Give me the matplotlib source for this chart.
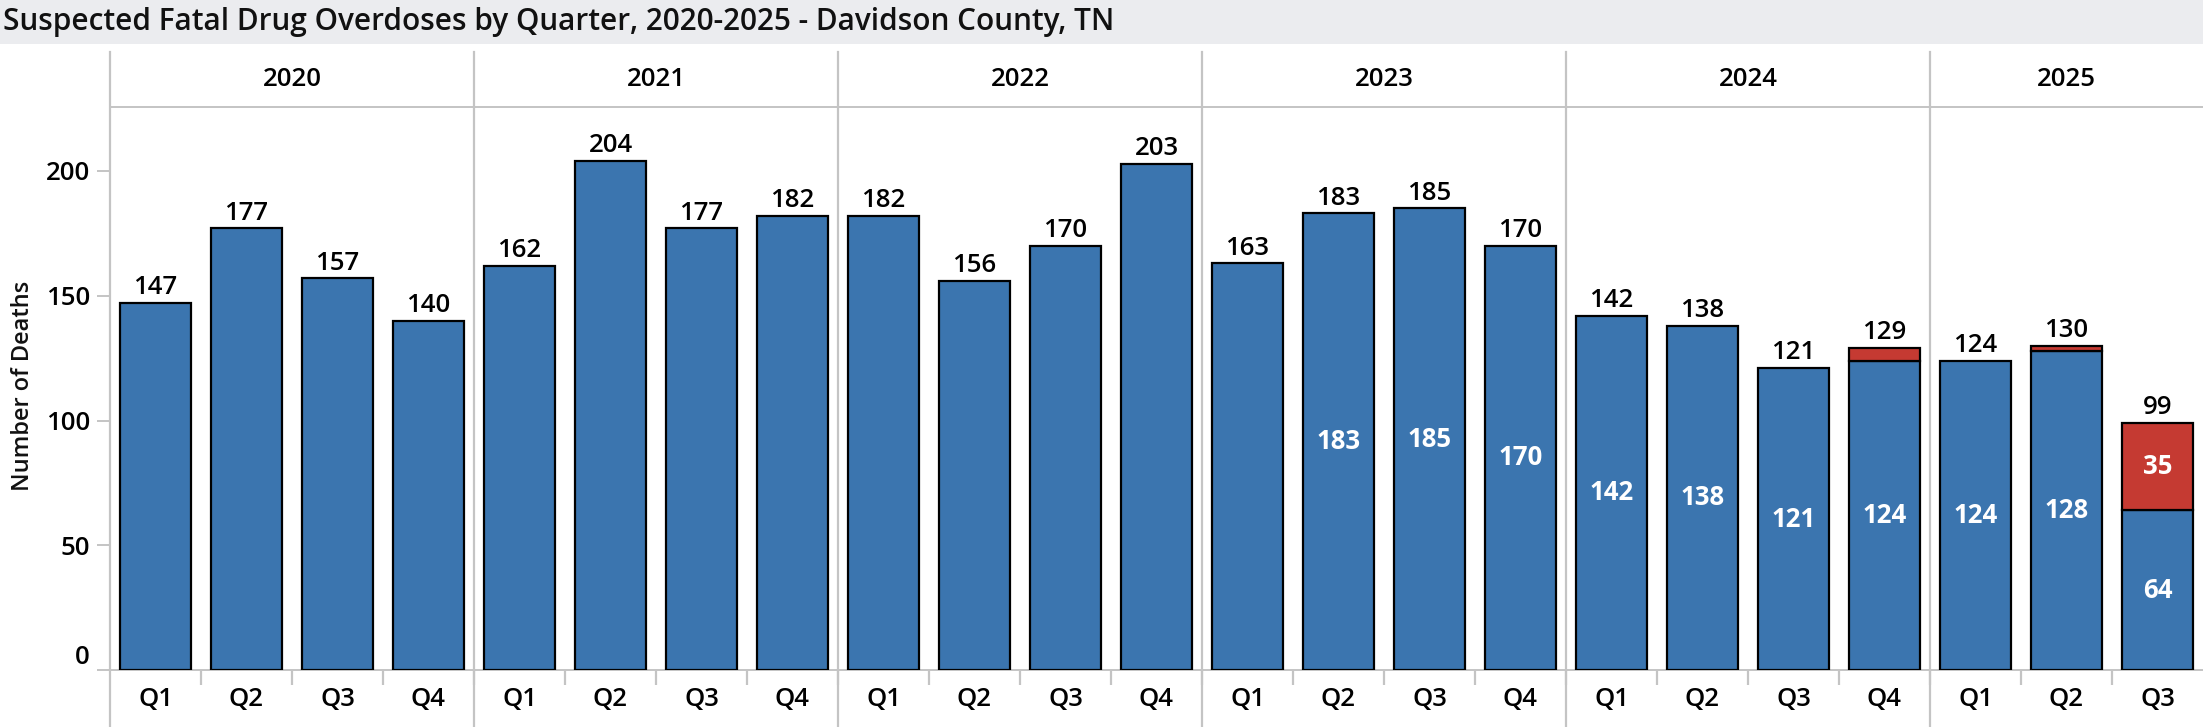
import matplotlib
matplotlib.use("Agg")
import matplotlib.pyplot as plt
from matplotlib.lines import Line2D
from matplotlib.patches import Rectangle
from matplotlib.transforms import blended_transform_factory, ScaledTranslation

# ---------------- data ----------------
years = ["2020", "2021", "2022", "2023", "2024", "2025"]
quarters_per_year = [4, 4, 4, 4, 4, 3]
quarter_labels = ["Q1", "Q2", "Q3", "Q4"] * 5 + ["Q1", "Q2", "Q3"]
blue_values = [147, 177, 157, 140,
               162, 204, 177, 182,
               182, 156, 170, 203,
               163, 183, 185, 170,
               142, 138, 121, 124,
               124, 128, 64]
red_values = [0, 0, 0, 0,
              0, 0, 0, 0,
              0, 0, 0, 0,
              0, 0, 0, 0,
              0, 0, 0, 5,
              0, 2, 35]
show_inner_blue = [False] * 13 + [True] * 10
show_inner_red = [False] * 22 + [True]

title = "Suspected Fatal Drug Overdoses by Quarter, 2020-2025 - Davidson County, TN"
y_label = "Number of Deaths"
y_ticks = [0, 50, 100, 150, 200]

# ---------------- style ----------------
W, H, DPI = 2203, 727, 100
BLUE = "#3B75AF"
RED = "#C53A32"
GRID = "#C4C4C4"
FONT = ["Open Sans", "DejaVu Sans"]
plt.rcParams["font.family"] = FONT
FS = 18.5
LW = "semibold"

fig = plt.figure(figsize=(W / DPI, H / DPI), dpi=DPI)

def fx(px):
    return px / W

def fy(py):
    return 1 - py / H

# title band
fig.patches.append(Rectangle((0, fy(44)), 1, 44 / H, transform=fig.transFigure,
                             facecolor="#EBECEF", edgecolor="none", zorder=0))
fig.text(fx(3), fy(22), title, fontsize=21.4, fontweight="semibold",
         ha="left", va="center", color="#111111")

ax_left, ax_right, ax_top, ax_bot = 110, 2203, 107, 670
ax = fig.add_axes([fx(ax_left), fy(ax_bot), (ax_right - ax_left) / W, (ax_bot - ax_top) / H])

n = len(blue_values)
x = list(range(n))
bar_w = 0.77
totals = [b + r for b, r in zip(blue_values, red_values)]

ax.bar(x, blue_values, width=bar_w, color=BLUE, edgecolor="black", linewidth=1.6, zorder=3)
red_x = [xi for xi, r in zip(x, red_values) if r > 0]
red_h = [r for r in red_values if r > 0]
red_b = [b for b, r in zip(blue_values, red_values) if r > 0]
ax.bar(red_x, red_h, bottom=red_b, width=bar_w, color=RED, edgecolor="black", linewidth=1.6, zorder=3)

# total labels
for xi, t in zip(x, totals):
    ax.annotate(str(t), (xi, t), xytext=(0, 2), textcoords="offset points",
                ha="center", va="bottom", fontsize=FS, fontweight=LW,
                color="black", zorder=5)

# inner labels
for xi, b, r, sb, sr in zip(x, blue_values, red_values, show_inner_blue, show_inner_red):
    if sb:
        ax.text(xi, b / 2, str(b), ha="center", va="center", fontsize=FS,
                fontweight="bold", color="white", zorder=5)
    if sr and r > 0:
        ax.text(xi, b + r / 2, str(r), ha="center", va="center", fontsize=FS,
                fontweight="bold", color="white", zorder=5)

ax.set_xlim(-0.5, n - 0.5)
ax.set_ylim(0, (ax_bot - ax_top) / 2.495)

# spines
ax.spines["right"].set_visible(False)
ax.spines["top"].set_color(GRID)
ax.spines["top"].set_linewidth(1.4)
ax.spines["left"].set_color("#D0D0D0")
ax.spines["left"].set_linewidth(1.2)
ax.spines["bottom"].set_color(GRID)
ax.spines["bottom"].set_linewidth(1.4)

# y axis
ax.set_yticks(y_ticks)
ax.set_yticklabels([str(v) for v in y_ticks])
ax.tick_params(axis="y", length=9.5, width=1.4, color=GRID, pad=5, labelsize=FS)
for lab in ax.get_yticklabels():
    lab.set_fontweight(LW)
lbl0 = ax.get_yticklabels()[0]
lbl0.set_transform(lbl0.get_transform() + ScaledTranslation(0, 15 / DPI, fig.dpi_scale_trans))
fig.text(fx(23), fy(386), y_label, rotation=90, ha="center", va="center",
         fontsize=17, fontweight="semibold", color="#111111")

# x axis
ax.set_xticks(x)
ax.set_xticklabels(quarter_labels)
ax.tick_params(axis="x", which="major", length=0, pad=12, labelsize=FS)
for lab in ax.get_xticklabels():
    lab.set_fontweight(LW)
ax.set_xticks([i + 0.5 for i in range(n - 1)], minor=True)
ax.tick_params(axis="x", which="minor", length=11, width=1.6, color=GRID)

# year separators & headers
trans = blended_transform_factory(ax.transData, fig.transFigure)
start = 0
bounds = [-0.5]
for yr, q in zip(years, quarters_per_year):
    center = start + (q - 1) / 2
    fig.text(center, fy(80), yr, transform=trans, ha="center", va="center",
             fontsize=FS, fontweight=LW, color="black")
    start += q
    bounds.append(start - 0.5)
for b in bounds[:-1]:
    fig.lines.append(Line2D([b, b], [fy(52), 0], transform=trans, color=GRID,
                            linewidth=1.6, zorder=1))

fig.savefig("out.png", dpi=DPI)
